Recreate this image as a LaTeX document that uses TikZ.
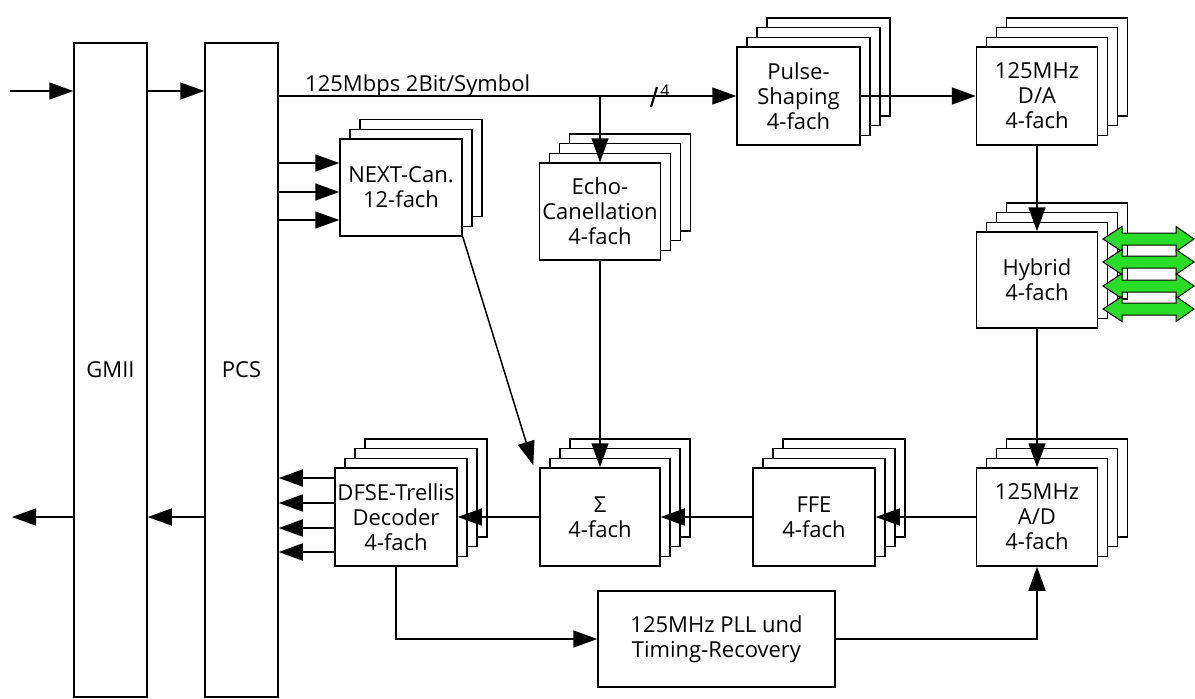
\documentclass[tikz,border=0pt]{standalone}
\usepackage{fontspec}
\setmainfont{Open Sans}
\usetikzlibrary{arrows.meta,calc}
\definecolor{grn}{RGB}{40,220,40}
\tikzset{
  blk/.style={draw, fill=white, line width=1.5pt, inner sep=0pt, align=center,
    font=\fontsize{22}{25}\selectfont},
  arr/.style={line width=1.5pt, -{Triangle[length=24pt,width=17pt]}},
  dbl/.style={fill=grn, draw=black, line width=1pt},
}
% #1 name, #2 cx, #3 cy, #4 w, #5 h, #6 back layers, #7 text
\newcommand\stk[7]{%
  \foreach \k in {#6,...,1}{%
    \node[blk, minimum width=#4pt, minimum height=#5pt] (#1-\k) at (#2+10*\k, #3-9.7*\k) {};}
  \node[blk, minimum width=#4pt, minimum height=#5pt] (#1) at (#2,#3) {#7};}
\newcommand\dblarrow[1]{%
  \fill[dbl] (1103,#1) -- (1122,#1-12.5) -- (1122,#1-6) -- (1176,#1-6) -- (1176,#1-12.5)
    -- (1194,#1) -- (1176,#1+12.5) -- (1176,#1+6) -- (1122,#1+6) -- (1122,#1+12.5) -- cycle;}
\begin{document}
\begin{tikzpicture}[x=1pt,y=-1pt]
\useasboundingbox (0,0) rectangle (1195,699);
% tall boxes
\node[blk, minimum width=73pt, minimum height=654pt] (GMII) at (110.5,370) {GMII};
\node[blk, minimum width=73pt, minimum height=654pt] (PCS) at (241.5,370) {PCS};
% stacks
\stk{Pulse}{798.5}{96}{123}{98}{3}{Pulse-\\Shaping\\4-fach}
\stk{DA}{1037}{96}{121}{98}{3}{125MHz\\D/A\\4-fach}
\stk{NEXT}{401}{187.5}{122}{97}{2}{NEXT-Can.\\12-fach}
\stk{Echo}{600}{211.5}{121}{97}{3}{Echo-\\Canellation\\4-fach}
\stk{Hybrid}{1037}{280}{121}{96}{3}{Hybrid\\4-fach}
\stk{AD}{1037}{517}{121}{98}{3}{125MHz\\A/D\\4-fach}
\stk{FFE}{814}{517}{122}{98}{3}{FFE\\4-fach}
\stk{Sigma}{600}{517}{120}{98}{3}{Σ\\4-fach}
\stk{DFSE}{396}{517}{122}{98}{3}{DFSE-Trellis\\Decoder\\4-fach}
\node[blk, minimum width=237pt, minimum height=96pt] (PLL) at (716.5,639) {125MHz PLL und\\Timing-Recovery};
% green double arrows
\dblarrow{239}
\dblarrow{262}
\dblarrow{286}
\dblarrow{309}
% label
\node[anchor=base west, inner sep=0pt, font=\fontsize{22}{25}\selectfont] (lbl) at (305,91) {125Mbps 2Bit/Symbol};
% connectors
\coordinate (in) at (10,91);
\coordinate (out) at (12,517);
\draw[arr] (in) -- (in -| GMII.west);
\draw[arr] (GMII.east |- in) -- (PCS.west |- in);
\draw[arr] (PCS.east |- Pulse) -- (Pulse.west);
\coordinate (br) at (Echo.north |- Pulse);
\draw[arr] (br) -- (Echo.north);
\coordinate (sl) at (654,97);
\draw[line width=2.2pt] ($(sl)+(-3,10)$) -- ($(sl)+(3,-10)$);
\node[font=\fontsize{16}{18}\selectfont, inner sep=0pt] (four) at (665,91) {4};
\draw[arr] (Pulse.east) -- (DA.west);
\draw[arr] (DA.south) -- (Hybrid.north);
\draw[arr] (Hybrid.south) -- (AD.north);
\draw[arr] (AD.west) -- (FFE.east);
\draw[arr] (FFE.west) -- (Sigma.east);
\draw[arr] (Sigma.west) -- (DFSE.east);
\foreach \yy in {163,192,220}{\draw[arr] (PCS.east |- 0,\yy) -- (NEXT.west |- 0,\yy);}
\draw[arr] (NEXT.south east) -- ($(Sigma.north west)+(-6,-2)$);
\draw[arr] (Echo.south) -- (Sigma.north);
\foreach \yy in {478,503,528,552}{\draw[arr] (DFSE.west |- 0,\yy) -- (PCS.east |- 0,\yy);}
\draw[arr] (PCS.west |- out) -- (GMII.east |- out);
\draw[arr] (GMII.west |- out) -- (out);
\draw[arr] (DFSE.south) |- (PLL.west);
\draw[arr] (PLL.east) -| (AD.south);
\end{tikzpicture}
\end{document}
